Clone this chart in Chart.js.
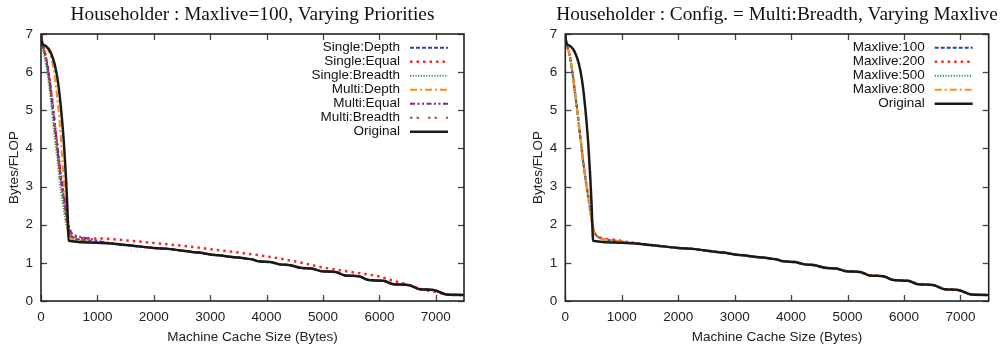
<!DOCTYPE html>
<html>
<head>
<meta charset="utf-8">
<script src="https://cdn.jsdelivr.net/npm/chart.js@4.4.1/dist/chart.umd.min.js"></script>
<style>
    html, body { margin: 0; padding: 0; background: #fff; }
    .wrap { position: absolute; top: 0; height: 349px; }
    #left { left: 0; width: 500px; }
    #right { left: 500px; width: 507px; }
</style>
</head>
<body>
<div class="wrap" id="left"><canvas id="leftChart"></canvas></div>
<div class="wrap" id="right"><canvas id="rightChart"></canvas></div>
<script>
const xTickValues = [0, 1000, 2000, 3000, 4000, 5000, 6000, 7000];
const yTickValues = [0, 1, 2, 3, 4, 5, 6, 7];

// Original curve: steep head, then a slow staircase down to ~0.16
const origHeadX = [0, 15, 40, 90, 140, 190, 240, 290, 330, 370, 410, 440, 465, 480, 490, 1000];
const origHeadY = [7.0, 6.76, 6.72, 6.68, 6.6, 6.45, 6.22, 5.85, 5.4, 4.8, 4.05, 3.3, 2.55, 1.95, 1.58, 1.53];
const tailX = [1500, 2000, 2300, 2450, 2650, 2800, 3000, 3150, 3350, 3500, 3650, 3750, 3860, 4070,
    4240, 4420, 4600, 4800, 4980, 5220, 5390, 5630, 5810, 6070, 6250, 6510, 6720, 6960, 7190, 7500];
const tailY = [1.47, 1.39, 1.36, 1.33, 1.29, 1.27, 1.22, 1.20, 1.16, 1.14, 1.11, 1.09, 1.04, 1.02,
    0.96, 0.94, 0.87, 0.85, 0.78, 0.76, 0.67, 0.65, 0.55, 0.53, 0.44, 0.42, 0.31, 0.29, 0.17, 0.16];

// heads of the modified variants (x = 0 .. 1000)
const varHeadX = [0, 20, 50, 90, 130, 170, 210, 250, 290, 330, 380, 430, 470, 500, 530, 580, 650, 750, 900, 1000];
const singleDepthY   = [7.0, 6.79, 6.6, 6.33, 5.98, 5.52, 5.02, 4.48, 3.98, 3.45, 2.9, 2.4, 2.0, 1.8, 1.72, 1.66, 1.62, 1.6, 1.57, 1.55];
const singleEqualY   = [7.0, 6.8, 6.62, 6.38, 6.05, 5.6, 5.1, 4.55, 4.05, 3.5, 2.95, 2.45, 2.05, 1.8, 1.72, 1.68, 1.66, 1.65, 1.64, 1.64];
const singleBreadthY = [7.0, 6.75, 6.5, 6.2, 5.8, 5.3, 4.75, 4.2, 3.7, 3.15, 2.6, 2.15, 1.85, 1.72, 1.66, 1.62, 1.59, 1.57, 1.55, 1.54];
const multiDepthY    = [7.0, 6.76, 6.72, 6.67, 6.58, 6.42, 6.18, 5.8, 5.3, 4.7, 3.65, 2.6, 1.9, 1.66, 1.62, 1.59, 1.57, 1.56, 1.55, 1.54];
const multiEqualY    = [7.0, 6.8, 6.62, 6.38, 6.05, 5.62, 5.12, 4.6, 4.1, 3.6, 3.0, 2.5, 2.15, 1.95, 1.82, 1.74, 1.7, 1.66, 1.62, 1.58];
const multiBreadthY  = [7.0, 6.78, 6.58, 6.3, 5.95, 5.5, 5.0, 4.45, 3.95, 3.4, 2.85, 2.35, 1.95, 1.78, 1.7, 1.65, 1.62, 1.6, 1.57, 1.55];
// Single:Equal stays above the rest along the tail
const equalTailX = [1500, 2000, 2500, 3000, 3500, 4000, 4500, 5000, 5500, 6000, 6200, 6500, 6800, 7000, 7250, 7500];
const equalTailY = [1.59, 1.52, 1.45, 1.36, 1.27, 1.17, 1.04, 0.88, 0.76, 0.64, 0.55, 0.43, 0.29, 0.24, 0.16, 0.16];

// right chart: Multi:Breadth with varying maxlive
const maxlive100Y = [7.0, 6.78, 6.6, 6.35, 5.95, 5.48, 5.02, 4.5, 4.0, 3.5, 2.98, 2.5, 2.1, 1.85, 1.75, 1.68, 1.63, 1.6, 1.58, 1.56];
const maxlive200Y = [7.0, 6.78, 6.6, 6.35, 5.95, 5.48, 5.02, 4.5, 4.0, 3.5, 2.98, 2.5, 2.1, 1.86, 1.76, 1.69, 1.64, 1.62, 1.6, 1.57];
const maxlive500Y = [7.0, 6.77, 6.59, 6.34, 5.94, 5.47, 5.01, 4.49, 3.99, 3.49, 2.97, 2.49, 2.09, 1.85, 1.75, 1.68, 1.63, 1.6, 1.58, 1.56];
const maxlive800Y = [7.0, 6.78, 6.6, 6.35, 5.96, 5.5, 5.03, 4.52, 4.02, 3.52, 3.0, 2.52, 2.12, 1.86, 1.75, 1.68, 1.63, 1.6, 1.58, 1.56];

const leftLabels = ['Single:Depth', 'Single:Equal', 'Single:Breadth', 'Multi:Depth', 'Multi:Equal', 'Multi:Breadth', 'Original'];
const rightLabels = ['Maxlive:100', 'Maxlive:200', 'Maxlive:500', 'Maxlive:800', 'Original'];

const pts = (xs, ys) => xs.map((x, i) => ({ x, y: ys[i] }));
const original = pts(origHeadX, origHeadY).concat(pts(tailX, tailY));
const variant = (head, tx = tailX, ty = tailY) => pts(varHeadX, head).concat(pts(tx, ty));

const styles = {
    blue:   { color: '#2846a0', dash: [4, 2], width: 2 },
    red:    { color: '#f42a2a', dash: [2.5, 4], width: 2.5 },
    green:  { color: '#2f9a4c', dash: [1.2, 1.5], width: 2 },
    orange: { color: '#ff8c10', dash: [7, 3, 2, 3], width: 2 },
    purple: { color: '#8b1e9a', dash: [5, 2.5, 2, 2.5, 2, 2.5], width: 2 },
    brown:  { color: '#a0522d', dash: [2.5, 4, 2.5, 9], width: 2 },
    black:  { color: '#1a1a1a', dash: [], width: 2.5 }
};

const ds = (label, data, s, i) => ({
    label, data,
    borderColor: s.color, borderDash: s.dash, borderWidth: s.width,
    pointRadius: 0, fill: false, cubicInterpolationMode: 'monotone',
    order: -i
});

// gnuplot look: frame, inward mirrored ticks, key in the top right, serif title
const gnuplotFrame = {
    id: 'gnuplotFrame',
    afterDraw(chart, args, opts) {
        const { ctx, chartArea: a, scales: { x, y } } = chart;
        const seg = (x1, y1, x2, y2) => { ctx.beginPath(); ctx.moveTo(x1, y1); ctx.lineTo(x2, y2); ctx.stroke(); };
        ctx.save();
        ctx.strokeStyle = '#444';
        ctx.lineWidth = 1.3;
        ctx.setLineDash([]);
        x.ticks.forEach(t => {
            const px = Math.round(x.getPixelForValue(t.value)) + 0.5;
            seg(px, a.bottom, px, a.bottom - 6);
            seg(px, a.top, px, a.top + 6);
        });
        y.ticks.forEach(t => {
            const py = Math.round(y.getPixelForValue(t.value)) + 0.5;
            seg(a.left, py, a.left + 6, py);
            seg(a.right, py, a.right - 6, py);
        });
        ctx.strokeStyle = '#222';
        ctx.lineWidth = 1.6;
        ctx.strokeRect(a.left, a.top, a.right - a.left, a.bottom - a.top);

        // key
        ctx.font = '13.5px "Liberation Sans", Arial, sans-serif';
        ctx.textAlign = 'right';
        ctx.textBaseline = 'middle';
        chart.data.datasets.forEach((d, i) => {
            const ry = a.top + 13.7 + 14 * i;
            ctx.fillStyle = '#111';
            ctx.fillText(d.label, a.right - 64, ry);
            ctx.strokeStyle = d.borderColor;
            ctx.lineWidth = d.borderWidth;
            ctx.setLineDash(d.borderDash);
            seg(a.right - 54, ry, a.right - 16, ry);
        });
        ctx.setLineDash([]);

        ctx.fillStyle = '#111';
        ctx.font = '19.3px "Liberation Serif", "Times New Roman", serif';
        ctx.textAlign = 'center';
        ctx.fillText(opts.title, (a.left + a.right) / 2, 14.5);
        ctx.restore();
    }
};

const tickFont = { family: '"Liberation Sans", Arial, sans-serif', size: 13.5 };

const makeOptions = (title, padLeft, padRight) => ({
    responsive: true,
    maintainAspectRatio: false,
    animation: false,
    layout: { padding: { top: 34, left: padLeft, right: padRight, bottom: 0 } },
    plugins: {
        legend: { display: false },
        tooltip: { enabled: false },
        gnuplotFrame: { title }
    },
    scales: {
        x: {
            type: 'linear', min: 0, max: 7500,
            grid: { display: false, drawTicks: false },
            border: { display: false },
            ticks: { padding: 8, color: '#222', font: tickFont, maxRotation: 0, autoSkip: false, callback: v => v },
            afterBuildTicks: s => { s.ticks = xTickValues.map(v => ({ value: v })); },
            title: { display: true, text: 'Machine Cache Size (Bytes)', color: '#222', font: tickFont, padding: { top: 0, bottom: 4 } },
            afterFit: s => { s.height = 48; }
        },
        y: {
            min: 0, max: 7,
            grid: { display: false, drawTicks: false },
            border: { display: false },
            ticks: { padding: 8, color: '#222', font: tickFont, autoSkip: false },
            afterBuildTicks: s => { s.ticks = yTickValues.map(v => ({ value: v })); },
            title: { display: true, text: 'Bytes/FLOP', color: '#222', font: tickFont, padding: { top: 6, bottom: 0 } },
            afterFit: s => { s.width = 41; }
        }
    }
});

const leftStyles = [styles.blue, styles.red, styles.green, styles.orange, styles.purple, styles.brown, styles.black];
const leftData = [
    variant(singleDepthY), variant(singleEqualY, equalTailX, equalTailY), variant(singleBreadthY),
    variant(multiDepthY), variant(multiEqualY), variant(multiBreadthY), original
];
new Chart(document.getElementById('leftChart'), {
    type: 'line',
    data: { datasets: leftLabels.map((l, i) => ds(l, leftData[i], leftStyles[i], i)) },
    options: makeOptions('Householder : Maxlive=100, Varying Priorities', 0, 36),
    plugins: [gnuplotFrame]
});

const rightStyles = [styles.blue, styles.red, styles.green, styles.orange, styles.black];
const rightData = [variant(maxlive100Y), variant(maxlive200Y), variant(maxlive500Y), variant(maxlive800Y), original];
new Chart(document.getElementById('rightChart'), {
    type: 'line',
    data: { datasets: rightLabels.map((l, i) => ds(l, rightData[i], rightStyles[i], i)) },
    options: makeOptions('Householder : Config. = Multi:Breadth, Varying Maxlive', 24.3, 18.3),
    plugins: [gnuplotFrame]
});
</script>
</body>
</html>
